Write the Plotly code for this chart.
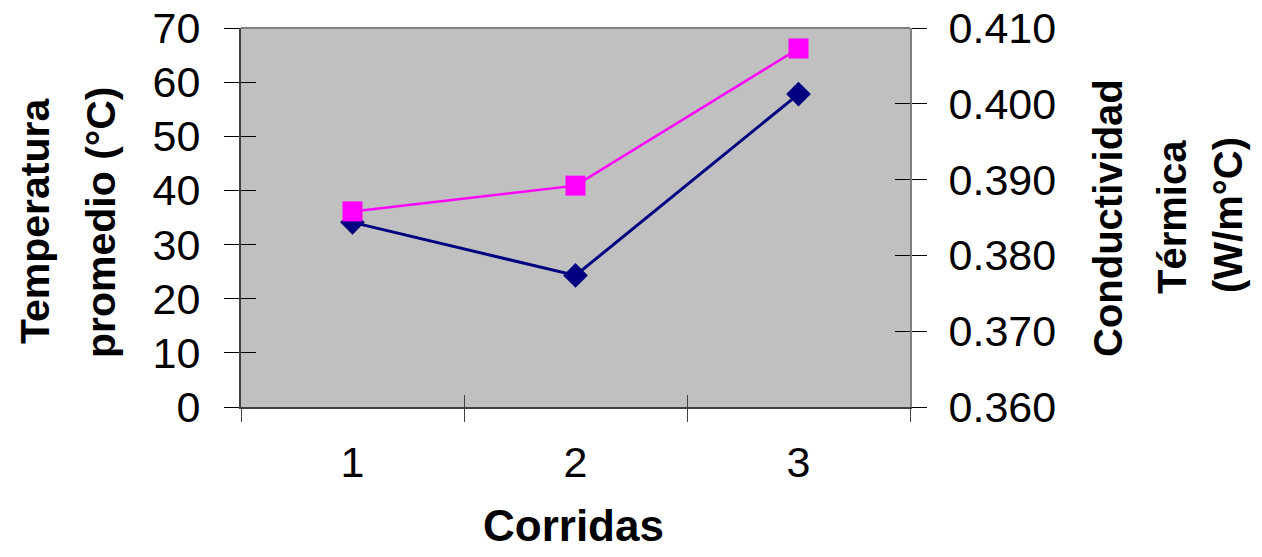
import plotly.graph_objects as go

# Runs (categories) and measured series
corridas = ["1", "2", "3"]
temperatura = [34.1, 24.3, 57.8]          # °C, left axis
conductividad = [0.3858, 0.3892, 0.4073]  # W/m°C, right axis

FONT = "Liberation Sans, Arial, sans-serif"
W, H = 1262, 557
L, R, T, B = 241, 352, 28, 150
pw, ph = W - L - R, H - T - B


def px_x(px):
    return (px - L) / pw


def px_y(py):
    return (H - B - py) / ph


fig = go.Figure()

# helper traces so the overlay axes (inner halves of the crossing ticks) are drawn
fig.add_trace(go.Scatter(x=corridas, y=temperatura, xaxis="x2", yaxis="y3",
                         mode="markers", marker=dict(opacity=0), hoverinfo="skip",
                         showlegend=False))
fig.add_trace(go.Scatter(x=corridas, y=conductividad, xaxis="x2", yaxis="y4",
                         mode="markers", marker=dict(opacity=0), hoverinfo="skip",
                         showlegend=False))

fig.add_trace(go.Scatter(
    x=corridas, y=conductividad, yaxis="y2", mode="lines+markers",
    line=dict(color="#FF00FF", width=2.5),
    marker=dict(symbol="square", size=20, color="#FF00FF"),
    name="Conductividad Térmica", showlegend=False))

fig.add_trace(go.Scatter(
    x=corridas, y=temperatura, yaxis="y", mode="lines+markers",
    line=dict(color="#000080", width=3),
    marker=dict(symbol="diamond", size=19, color="#000080"),
    name="Temperatura promedio", showlegend=False))

tick_font = dict(family=FONT, size=43, color="black")
cat_range = [-0.5, len(corridas) - 0.5]

fig.update_layout(
    width=W, height=H,
    margin=dict(l=L, r=R, t=T, b=B, pad=0, autoexpand=False),
    paper_bgcolor="white",
    plot_bgcolor="#C0C0C0",
    showlegend=False,
    xaxis=dict(
        type="category", categoryarray=corridas, tickson="boundaries",
        range=cat_range, automargin=False,
        showgrid=False, zeroline=False,
        showline=True, linecolor="#404040", linewidth=2,
        ticks="outside", ticklen=13, tickwidth=1, tickcolor="#404040",
        tickfont=tick_font, ticklabelstandoff=16,
    ),
    xaxis2=dict(
        type="category", categoryarray=corridas, tickson="boundaries",
        range=cat_range, automargin=False,
        overlaying="x", side="bottom",
        showgrid=False, zeroline=False, showline=False,
        ticks="inside", ticklen=12, tickwidth=1, tickcolor="#404040",
        showticklabels=False,
    ),
    yaxis=dict(
        range=[0, 70], dtick=10, tick0=0, automargin=False,
        showgrid=False, zeroline=False,
        showline=True, linecolor="#404040", linewidth=2,
        ticks="outside", ticklen=15, tickwidth=1, tickcolor="black",
        tickfont=tick_font, ticklabelstandoff=15,
    ),
    yaxis3=dict(
        range=[0, 70], dtick=10, tick0=0, overlaying="y", side="left",
        automargin=False,
        showgrid=False, zeroline=False, showline=False,
        ticks="inside", ticklen=15, tickwidth=1, tickcolor="black",
        showticklabels=False,
    ),
    yaxis2=dict(
        range=[0.36, 0.41], dtick=0.01, tick0=0.36, tickformat=".3f",
        overlaying="y", side="right", automargin=False,
        showgrid=False, zeroline=False,
        showline=True, linecolor="#808080", linewidth=2,
        ticks="outside", ticklen=15, tickwidth=1, tickcolor="black",
        tickfont=tick_font, ticklabelstandoff=13,
    ),
    yaxis4=dict(
        range=[0.36, 0.41], dtick=0.01, tick0=0.36, overlaying="y", side="right",
        automargin=False,
        showgrid=False, zeroline=False, showline=False,
        ticks="inside", ticklen=15, tickwidth=1, tickcolor="black",
        showticklabels=False,
    ),
)

# plot-area frame (top edge in gray)
fig.add_shape(type="line", xref="paper", yref="paper", x0=0, x1=1, y0=1, y1=1,
              line=dict(color="#808080", width=2))

annotations = [
    ("Temperatura", 35, 221, -90, 41),
    ("promedio (°C)", 101, 222, -90, 41),
    ("Conductividad", 1108, 218, -90, 40),
    ("Térmica", 1172, 217, -90, 40),
    ("(W/m°C)", 1228, 215, -90, 40),
    ("Corridas", 573, 525, 0, 44),
]
for text, ax_px, ay_px, ang, size in annotations:
    fig.add_annotation(
        text="<b>%s</b>" % text, xref="paper", yref="paper",
        x=px_x(ax_px), y=px_y(ay_px), xanchor="center", yanchor="middle",
        textangle=ang, showarrow=False,
        font=dict(family=FONT, size=size, color="black"),
    )

fig.write_html("out.html")
